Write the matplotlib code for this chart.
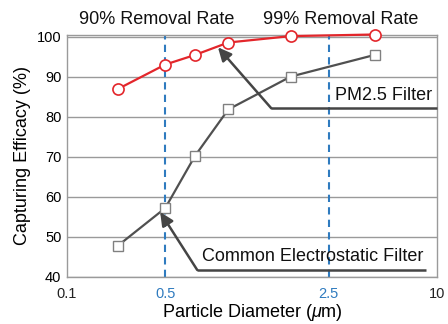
import numpy as np
import matplotlib
matplotlib.use("Agg")
import matplotlib.pyplot as plt

plt.rcParams['font.family'] = ['Liberation Sans', 'DejaVu Sans']
plt.rcParams['mathtext.fontset'] = 'custom'
plt.rcParams['mathtext.it'] = 'Liberation Sans:italic'

# ---- data ----
diam = [0.23, 0.5, 0.67, 0.93, 1.72, 4.5]
pm25 = [86.9, 93.0, 95.4, 98.5, 100.1, 100.5]
common = [47.8, 57.2, 70.2, 81.8, 90.0, 95.4]
xticks = [0.1, 0.5, 2.5, 10]
xticklabels = ["0.1", "0.5", "2.5", "10"]
yticks = [40, 50, 60, 70, 80, 90, 100]

# piecewise-log scale: the reference's ticks are not evenly spaced in log
LOGS = np.log10(xticks)
POS = np.array([0, 98, 261, 369], dtype=float)

def fwd(x):
    x = np.asarray(x, dtype=float)
    return np.interp(np.log10(np.clip(x, 1e-9, None)), LOGS, POS)

def inv(y):
    y = np.asarray(y, dtype=float)
    return 10 ** np.interp(y, POS, LOGS)

fig = plt.figure(figsize=(4.48, 3.24), dpi=100)
ax = fig.add_axes([67/448, 1-277/324, 370/448, (277-34.5)/324])
ax.set_xscale('function', functions=(fwd, inv))
ax.set_xlim(0.1, 10)
ax.set_ylim(40, 100.5)

grid_c = '#9a9a9a'
for s in ax.spines.values():
    s.set_color(grid_c)
    s.set_linewidth(1.0)
ax.set_yticks(yticks)
ax.yaxis.grid(True, color=grid_c, lw=1.0)
ax.set_axisbelow(True)
ax.tick_params(length=0, labelsize=10.5)
ax.tick_params(axis='x', pad=7)
ax.tick_params(axis='y', pad=4)
ax.set_xticks(xticks)
ax.set_xticklabels(xticklabels)
blue = '#2f7bbf'
for lbl, c in zip(ax.get_xticklabels(), ['#222222', blue, blue, '#222222']):
    lbl.set_color(c)

for xv in [0.5, 2.5]:
    ax.axvline(xv, color=blue, lw=1.5, ls=(0, (3.5, 2.5)), zorder=1)

ax.plot(diam, common, color='#505050', lw=1.6, marker='s', ms=6.5,
        mfc='white', mec='#808080', mew=1.0, zorder=3, clip_on=False)
ax.plot(diam, pm25, color='#e3262b', lw=1.6, marker='o', ms=8,
        mfc='white', mec='#e3262b', mew=1.2, zorder=4, clip_on=False)

arrow_c = '#454545'
# PM2.5 filter callout
ax.plot([1.42, 10], [82.1, 82.1], color=arrow_c, lw=1.8, zorder=5, clip_on=False,
        solid_capstyle='butt')
ax.annotate('', xy=(0.84, 97.3), xytext=(1.42, 82.1),
            arrowprops=dict(arrowstyle='-|>,head_length=0.8,head_width=0.38',
                            color=arrow_c, lw=1.8, shrinkA=0, shrinkB=0), zorder=5)
ax.text(0.988, 85.3, 'PM2.5 Filter', ha='right', va='center', fontsize=13,
        transform=ax.get_yaxis_transform(), color='#111111')

# Common filter callout
ax.plot([0.685, 8.65], [41.75, 41.75], color=arrow_c, lw=1.8, zorder=5,
        solid_capstyle='butt')
ax.annotate('', xy=(0.46, 56.2), xytext=(0.685, 41.75),
            arrowprops=dict(arrowstyle='-|>,head_length=0.8,head_width=0.38',
                            color=arrow_c, lw=1.8, shrinkA=0, shrinkB=0), zorder=5)
ax.text(0.962, 45.0, 'Common Electrostatic Filter', ha='right', va='center',
        fontsize=13, transform=ax.get_yaxis_transform(), color='#111111')

fig.text(157/448, 1-20/324, '90% Removal Rate', ha='center', va='center',
         fontsize=13, color='#111111')
fig.text(341/448, 1-20/324, '99% Removal Rate', ha='center', va='center',
         fontsize=13, color='#111111')

ax.set_xlabel('Particle Diameter ($\\mathit{\\mu}$m)', fontsize=13, labelpad=1)
ax.set_ylabel('Capturing Efficacy (%)', fontsize=13, labelpad=4)

fig.savefig('out.png', dpi=100)
